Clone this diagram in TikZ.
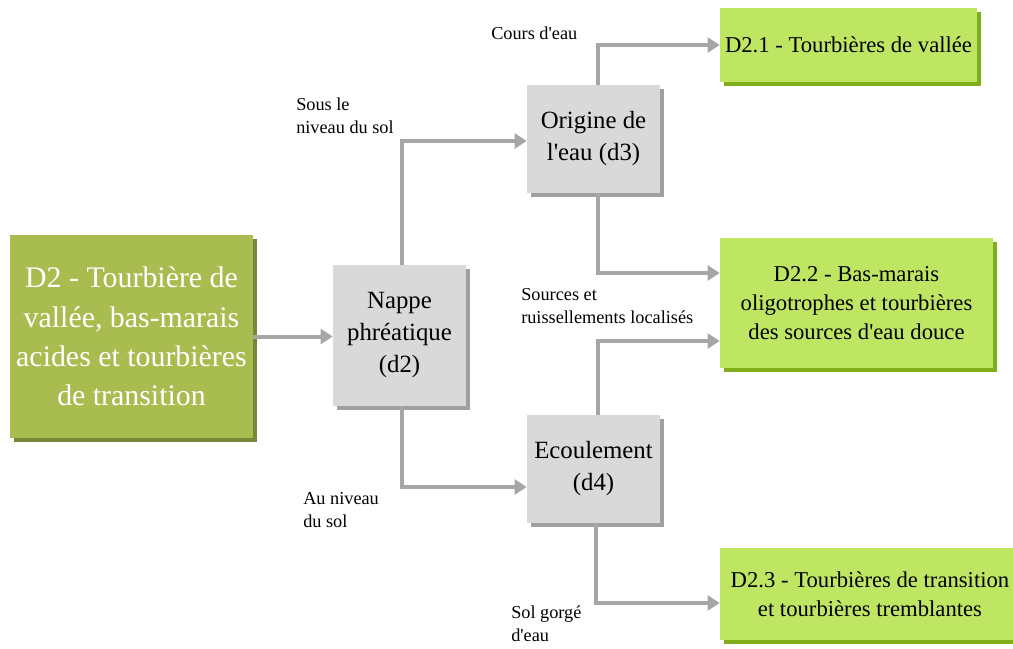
\documentclass[tikz,border=0pt]{standalone}
\usepackage{fontspec}
\setmainfont{Liberation Serif}
\usepackage{tikz}
\usetikzlibrary{arrows.meta,shadows,calc}

\definecolor{oliveFill}{HTML}{A9BC50}
\definecolor{oliveDark}{HTML}{76883A}
\definecolor{greyFill}{HTML}{D9D9D9}
\definecolor{greyDark}{HTML}{A0A0A0}
\definecolor{limeFill}{HTML}{BFE663}
\definecolor{limeDark}{HTML}{7FAE1A}
\definecolor{linkGrey}{HTML}{A6A6A6}

\begin{document}
\begin{tikzpicture}[x=0.75pt,y=-0.75pt,
			mainbox/.style={fill=oliveFill,text=white,align=center,inner sep=0pt,
				font=\fontsize{22.4}{29.5}\selectfont,
				general shadow={fill=oliveDark,shadow xshift=3pt,shadow yshift=-3pt}},
			critbox/.style={fill=greyFill,align=center,inner sep=0pt,
				font=\fontsize{18.6}{24}\selectfont,
				minimum width=99.75pt,
				general shadow={fill=greyDark,shadow xshift=3pt,shadow yshift=-3pt}},
			typebox/.style={fill=limeFill,align=center,inner sep=0pt,
				font=\fontsize{17}{21.5}\selectfont,
				general shadow={fill=limeDark,shadow xshift=3pt,shadow yshift=-3pt}},
			lbl/.style={anchor=west,align=left,inner sep=0pt,
				font=\fontsize{13.7}{17.5}\selectfont},
			link/.style={draw=linkGrey,line width=3pt,
				-{Triangle[length=9pt,width=11pt]}},
			]
			\def\u{0.75pt}
			\def\q{\textquotesingle}
			\useasboundingbox (0,0) rectangle (1013,649);
			
			% habitat principal
			\node[mainbox,minimum width=243*\u,minimum height=203*\u] (d2) at (131.5,336.5)
			{D2 - Tourbière de\\vallée, bas-marais\\acides et tourbières\\de transition};
			
			% criteres
			\node[critbox,minimum height=141*\u] (nappe) at (399.5,335.5)
			{Nappe\\phréatique\\(d2)};
			\node[critbox,minimum height=108*\u] (origine) at (593.5,139)
			{Origine de\\l\q eau (d3)};
			\node[critbox,minimum height=108*\u] (ecoul) at (593.5,469)
			{Ecoulement\\(d4)};
			
			% sous-types
			\node[typebox,minimum width=257*\u,minimum height=74*\u] (d21) at (848.5,45)
			{D2.1 - Tourbières de vallée};
			\node[typebox,minimum width=273*\u,minimum height=130*\u] (d22) at (856.5,303)
			{D2.2 - Bas-marais\\oligotrophes et tourbières\\des sources d\q eau douce};
			\node[typebox,minimum width=300*\u,minimum height=92*\u] (d23) at (870,594)
			{D2.3 - Tourbières de transition\\et tourbières tremblantes};
			
			% liens
			\draw[link] (d2.east) -- (d2.east -| nappe.west);
			\draw[link] ($(nappe.north)+(2.5,0)$) |- ($(origine.west)+(0,2)$);
			\draw[link] ($(nappe.south)+(2.5,0)$) |- ($(ecoul.west)+(0,18)$);
			\draw[link] ($(origine.north)+(4.5,0)$) |- (d21.west);
			\draw[link] ($(origine.south)+(4.5,0)$) |- ($(d22.west)+(0,-30)$);
			\draw[link] ($(ecoul.north)+(4.5,0)$) |- ($(d22.west)+(0,38)$);
			\draw[link] ($(ecoul.south)+(2.5,0)$) |- ($(d23.west)+(0,9)$);
			
			% etiquettes
			\node[lbl] (l1) at (491,33) {Cours d\q eau};
			\node[lbl] (l2) at (296,116) {Sous le\\niveau du sol};
			\node[lbl] (l3) at (521,306) {Sources et\\ruissellements localisés};
			\node[lbl] (l4) at (303,510) {Au niveau\\du sol};
			\node[lbl] (l5) at (511,624) {Sol gorgé\\d\q eau};
		\end{tikzpicture}
\end{document}
